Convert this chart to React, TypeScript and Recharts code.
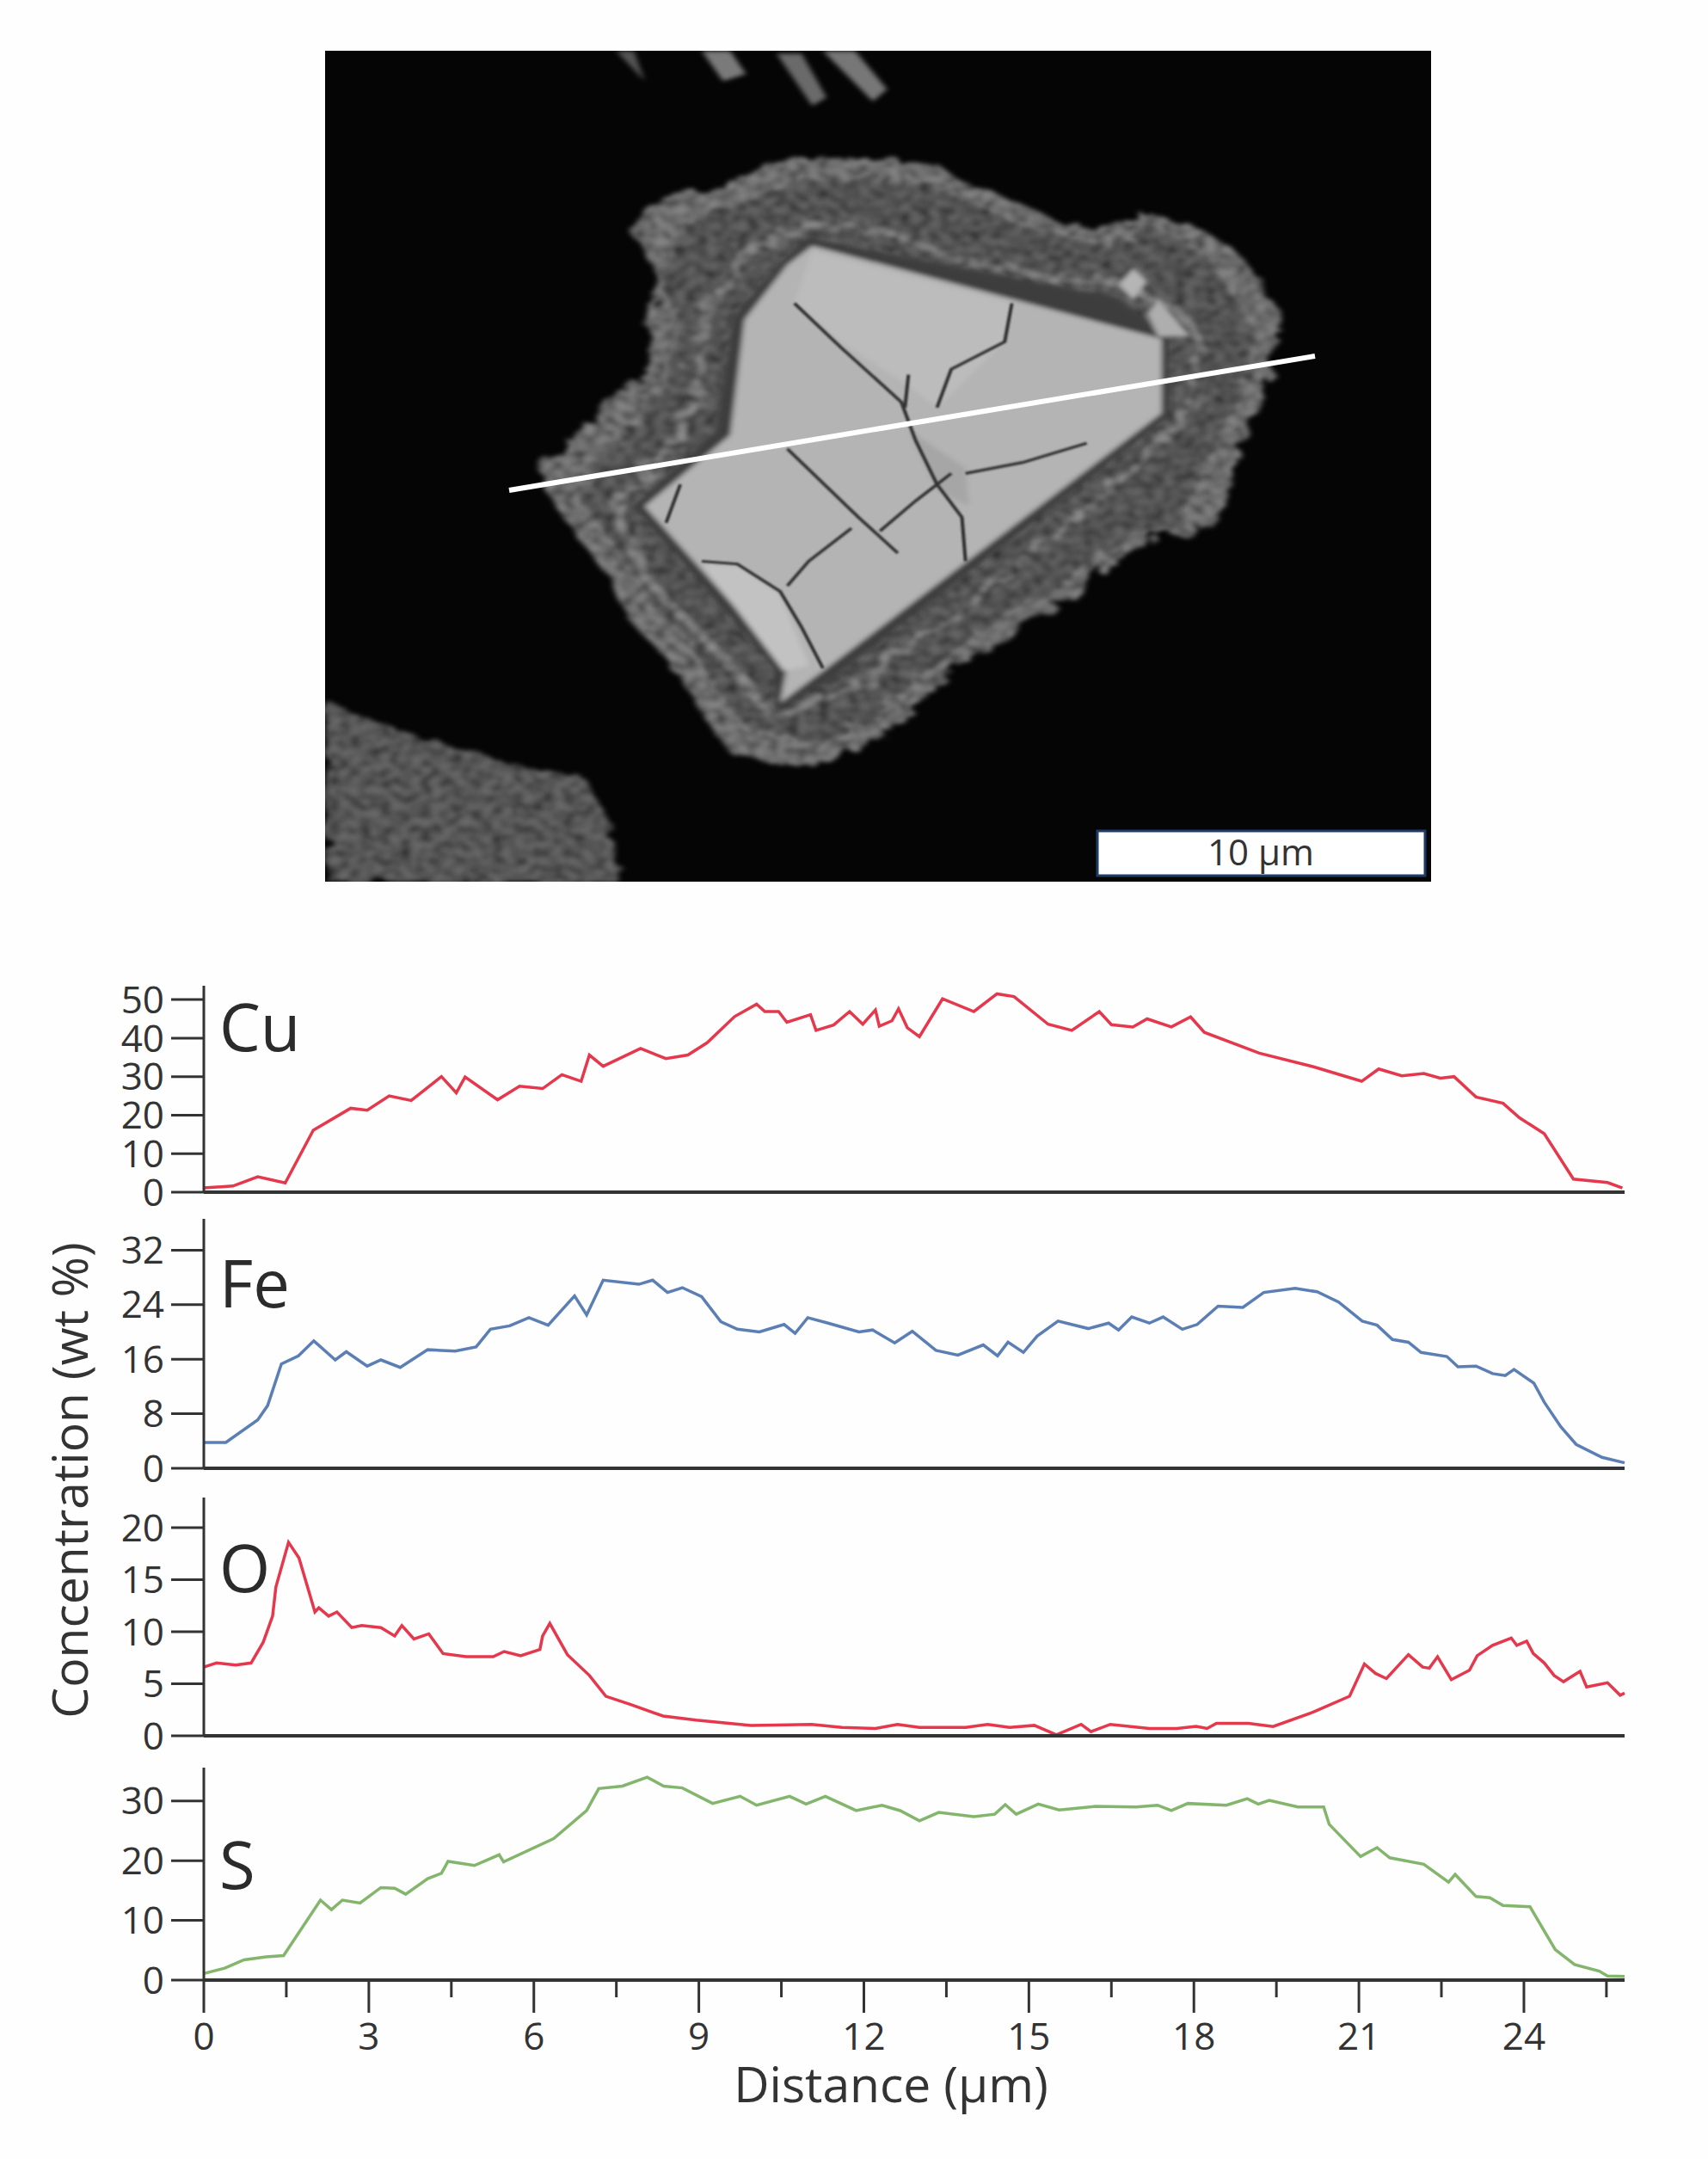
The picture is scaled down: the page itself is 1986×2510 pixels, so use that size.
import React from 'react'
import { LineChart, Line, XAxis, YAxis } from 'recharts'

// Distance (um) / concentration (wt %)
const cuDistance = [0, 0.53, 0.98, 1.48, 1.99, 2.67, 2.97, 3.37, 3.77, 4.32, 4.59, 4.75, 5.34, 5.74, 6.16, 6.51, 6.86, 7.01, 7.26, 7.94, 8.4, 8.8, 9.15, 9.65, 10.05, 10.2, 10.45, 10.6, 11.03, 11.13, 11.45, 11.74, 11.98, 12.21, 12.28, 12.51, 12.63, 12.79, 13.01, 13.43, 14.0, 14.42, 14.73, 15.35, 15.78, 16.28, 16.5, 16.89, 17.15, 17.59, 17.94, 18.19, 19.19, 20.19, 21.05, 21.36, 21.78, 22.18, 22.48, 22.73, 23.13, 23.62, 23.92, 24.37, 24.9, 25.52, 25.79]
const cuValues = [1.1, 1.6, 4.0, 2.4, 16.1, 21.8, 21.3, 25.0, 23.8, 30.0, 25.8, 29.9, 24.0, 27.5, 26.9, 30.5, 28.8, 35.6, 32.7, 37.3, 34.7, 35.6, 38.8, 45.6, 48.8, 46.9, 46.9, 44.1, 46.1, 42.0, 43.4, 46.9, 43.6, 47.3, 43.1, 44.5, 47.6, 42.7, 40.4, 50.2, 46.9, 51.5, 50.8, 43.6, 42.0, 46.9, 43.5, 42.9, 45.0, 42.9, 45.5, 41.5, 36.1, 32.5, 28.8, 32.0, 30.2, 30.8, 29.6, 30.0, 24.7, 23.1, 19.3, 15.2, 3.4, 2.5, 1.1]

const feDistance = [0, 0.4, 0.98, 1.16, 1.41, 1.72, 2.0, 2.39, 2.59, 2.97, 3.22, 3.57, 4.07, 4.57, 4.95, 5.21, 5.56, 5.91, 6.26, 6.74, 6.96, 7.26, 7.91, 8.16, 8.43, 8.7, 9.05, 9.4, 9.7, 10.1, 10.55, 10.75, 10.98, 11.35, 11.91, 12.16, 12.56, 12.88, 13.31, 13.71, 14.17, 14.43, 14.62, 14.9, 15.15, 15.53, 16.08, 16.45, 16.63, 16.87, 17.19, 17.44, 17.79, 18.06, 18.44, 18.89, 19.27, 19.84, 20.24, 20.63, 21.06, 21.33, 21.61, 21.9, 22.13, 22.6, 22.8, 23.13, 23.43, 23.66, 23.82, 24.18, 24.37, 24.67, 24.95, 25.42, 25.83]
const feValues = [3.8, 3.8, 7.1, 9.2, 15.3, 16.5, 18.7, 15.9, 17.1, 15.0, 15.9, 14.8, 17.4, 17.2, 17.8, 20.4, 20.9, 22.1, 21.0, 25.3, 22.5, 27.6, 27.0, 27.6, 25.8, 26.5, 25.2, 21.5, 20.4, 20.0, 21.1, 19.8, 22.1, 21.3, 20.0, 20.3, 18.4, 20.1, 17.3, 16.6, 18.1, 16.5, 18.5, 17.0, 19.4, 21.6, 20.5, 21.3, 20.3, 22.2, 21.3, 22.2, 20.4, 21.1, 23.8, 23.6, 25.8, 26.4, 25.9, 24.4, 21.6, 21.0, 18.9, 18.5, 17.0, 16.4, 14.9, 15.0, 13.9, 13.6, 14.5, 12.5, 9.7, 6.1, 3.5, 1.6, 0.8]

const oDistance = [0, 0.23, 0.58, 0.86, 1.08, 1.25, 1.31, 1.54, 1.73, 2.02, 2.09, 2.27, 2.42, 2.69, 2.87, 3.22, 3.47, 3.6, 3.82, 4.09, 4.35, 4.77, 5.26, 5.46, 5.76, 6.11, 6.16, 6.29, 6.61, 7.01, 7.31, 7.76, 8.35, 8.95, 9.95, 11.05, 11.6, 12.21, 12.61, 13.01, 13.85, 14.25, 14.65, 15.1, 15.5, 15.95, 16.13, 16.48, 17.19, 17.69, 18.04, 18.24, 18.41, 18.99, 19.44, 20.18, 20.83, 21.1, 21.3, 21.5, 21.9, 22.16, 22.28, 22.43, 22.68, 23.01, 23.15, 23.43, 23.77, 23.87, 24.05, 24.17, 24.37, 24.55, 24.72, 25.02, 25.14, 25.52, 25.75, 25.83]
const oValues = [6.6, 7.0, 6.8, 7.0, 9.0, 11.5, 14.3, 18.6, 17.1, 11.9, 12.3, 11.5, 11.9, 10.4, 10.6, 10.4, 9.6, 10.6, 9.3, 9.8, 7.9, 7.6, 7.6, 8.1, 7.7, 8.3, 9.6, 10.8, 7.8, 5.8, 3.8, 3.0, 1.9, 1.5, 1.0, 1.1, 0.8, 0.7, 1.1, 0.8, 0.8, 1.1, 0.8, 1.0, 0.1, 1.1, 0.4, 1.1, 0.7, 0.7, 0.9, 0.7, 1.2, 1.2, 0.9, 2.3, 3.8, 6.9, 6.0, 5.5, 7.8, 6.6, 6.5, 7.6, 5.4, 6.3, 7.7, 8.7, 9.4, 8.7, 9.1, 7.9, 7.0, 5.8, 5.2, 6.2, 4.7, 5.1, 3.9, 4.1]

const sDistance = [0, 0.38, 0.73, 1.13, 1.45, 2.12, 2.32, 2.52, 2.84, 3.22, 3.47, 3.67, 4.07, 4.32, 4.44, 4.92, 5.37, 5.45, 6.36, 6.96, 7.18, 7.61, 8.06, 8.36, 8.7, 9.25, 9.75, 10.05, 10.65, 10.95, 11.3, 11.86, 12.33, 12.66, 13.01, 13.36, 14.0, 14.38, 14.57, 14.77, 15.17, 15.55, 16.2, 16.95, 17.34, 17.59, 17.89, 18.59, 18.97, 19.17, 19.37, 19.89, 20.36, 20.46, 21.03, 21.33, 21.56, 22.18, 22.63, 22.75, 23.13, 23.38, 23.62, 24.11, 24.57, 24.92, 25.37, 25.52, 25.83]
const sValues = [1.1, 2.0, 3.4, 3.9, 4.1, 13.4, 11.8, 13.4, 12.9, 15.5, 15.4, 14.4, 17.0, 17.9, 19.9, 19.2, 21.0, 19.8, 23.7, 28.4, 32.1, 32.5, 34.0, 32.5, 32.2, 29.6, 30.8, 29.3, 30.8, 29.5, 30.8, 28.4, 29.3, 28.4, 26.7, 28.1, 27.4, 27.8, 29.4, 27.8, 29.5, 28.5, 29.1, 29.0, 29.3, 28.4, 29.6, 29.3, 30.4, 29.5, 30.1, 29.0, 29.0, 26.1, 20.7, 22.2, 20.5, 19.4, 16.4, 17.7, 14.0, 13.8, 12.5, 12.3, 5.1, 2.6, 1.5, 0.7, 0.6]

const cuTicks = [0, 10, 20, 30, 40, 50]
const feTicks = [0, 8, 16, 24, 32]
const oTicks = [0, 5, 10, 15, 20]
const sTicks = [0, 10, 20, 30]
const distanceTicks = [0, 1.5, 3, 4.5, 6, 7.5, 9, 10.5, 12, 13.5, 15, 16.5, 18, 19.5, 21, 22.5, 24, 25.5]

const FONT = '"Open Sans", sans-serif'
const INK = '#333333'
const RED = '#e5384c'
const BLUE = '#5b7fb5'
const GREEN = '#83b56c'
const MAX_DIST = 25.83

const toRows = (xs: number[], ys: number[]) => xs.map((d, i) => ({ d, v: ys[i] }))

// bottom axis: long ticks carry a label, short ones don't
const DistanceTick = ({ x, y, payload }: any) => {
  const major = payload.value % 3 === 0
  return (
    <g>
      <line x1={x} x2={x} y1={y} y2={y + (major ? 38 : 20)} stroke={INK} strokeWidth={3} />
      {major && (
        <text x={x} y={y + 81} textAnchor="middle" fontFamily={FONT} fontSize={44} fill={INK}>
          {payload.value}
        </text>
      )}
    </g>
  )
}

const Panel = ({ rows, ticks, top, y0, max, color, xAxisBottom }: any) => {
  const pad = 30
  const below = xAxisBottom ? 110 : pad
  return (
    <div style={{ position: 'absolute', left: 0, top: top - pad }}>
      <LineChart
        width={1986}
        height={y0 - top + pad + below}
        data={rows}
        margin={{ top: pad, right: 1986 - 1889, bottom: 0, left: 0 }}
      >
        <XAxis
          dataKey="d"
          type="number"
          domain={[0, MAX_DIST]}
          ticks={xAxisBottom ? distanceTicks : []}
          interval={0}
          height={below}
          tickSize={0}
          tickMargin={0}
          axisLine={{ stroke: INK, strokeWidth: 4 }}
          tickLine={false}
          tick={xAxisBottom ? <DistanceTick /> : false}
        />
        <YAxis
          width={237}
          type="number"
          domain={[0, max]}
          ticks={ticks}
          interval={0}
          tickSize={38}
          tickMargin={8}
          axisLine={{ stroke: INK, strokeWidth: 3 }}
          tickLine={{ stroke: INK, strokeWidth: 3 }}
          tick={{ fontFamily: FONT, fontSize: 44, fill: INK }}
        />
        <Line
          dataKey="v"
          type="linear"
          stroke={color}
          strokeWidth={3.5}
          dot={false}
          isAnimationActive={false}
        />
      </LineChart>
    </div>
  )
}

// The SEM micrograph above the profiles, sketched with blurred shapes
const rim = '450,360 490,295 530,290 590,270 680,225 720,222 800,230 880,235 910,265 1000,310 1060,350 1130,350 1170,320 1240,350 1290,385 1330,440 1362,520 1340,640 1310,740 1290,810 1285,870 1240,925 1190,900 1130,960 1060,1030 985,1090 870,1190 840,1245 780,1300 680,1335 590,1310 540,1220 510,1150 450,1070 425,1000 380,920 330,830 320,790 370,735 430,655 470,620 480,520 490,440'
const band = '490,430 540,340 600,310 690,270 800,265 880,280 1000,350 1130,390 1180,350 1250,400 1310,500 1320,600 1280,720 1230,850 1215,900 1130,920 1040,1010 960,1070 850,1170 810,1230 720,1290 620,1270 570,1190 530,1100 480,1040 440,950 380,850 400,790 470,700 510,620 520,520'
const paleRing = '555,510 610,395 700,345 800,355 900,405 1020,440 1130,450 1225,510 1250,570 1230,700 1150,800 1000,960 840,1120 740,1205 650,1245 590,1150 470,990 430,860 510,750 545,650'
const gap = '700,372 1130,480 1205,550 1205,695 730,1175 655,1232 650,1150 455,860 570,725 595,515 665,410'
const core = '705,385 1195,555 1195,690 720,1160 660,1218 670,1150 470,860 590,730 610,520 670,420'
const grain = '22,1215 130,1270 300,1335 380,1350 420,1430 435,1545 22,1545'
const cracks = [
  '680,490 745,570 830,670 850,740 880,820 915,880 920,960',
  '670,755 770,880 825,945',
  '800,905 850,850 900,800',
  '550,960 600,965 660,1015 690,1080 720,1155',
  '670,1005 700,960 760,900',
  '520,820 500,890',
  '840,620 835,680',
  '985,490 975,560 900,610 880,680',
  '920,800 1000,780 1090,745',
]

const Micrograph = () => (
  <svg width={1986} height={1040} style={{ position: 'absolute', left: 0, top: 0 }}>
    <defs>
      <filter id="soft" x="-5%" y="-5%" width="110%" height="110%">
        <feGaussianBlur stdDeviation="4" />
      </filter>
      <filter id="fine" x="-5%" y="-5%" width="110%" height="110%">
        <feGaussianBlur stdDeviation="1.5" />
      </filter>
      <filter id="rough" x="-10%" y="-10%" width="120%" height="120%">
        <feTurbulence type="fractalNoise" baseFrequency="0.035" numOctaves="3" seed="4" result="warp" />
        <feDisplacementMap in="SourceGraphic" in2="warp" scale="34" result="shape" />
        <feTurbulence type="fractalNoise" baseFrequency="0.07" numOctaves="3" seed="9" result="grainy" />
        <feColorMatrix
          in="grainy"
          type="matrix"
          values="0 0 0 0 0  0 0 0 0 0  0 0 0 0 0  1.6 0 0 0 -0.45"
          result="specks"
        />
        <feComposite in="specks" in2="shape" operator="in" result="speckled" />
        <feMerge result="merged">
          <feMergeNode in="shape" />
          <feMergeNode in="speckled" />
        </feMerge>
        <feGaussianBlur in="merged" stdDeviation="4" />
      </filter>
      <clipPath id="frame">
        <rect x={378} y={59} width={1286} height={966} />
      </clipPath>
    </defs>
    <rect x={378} y={59} width={1286} height={966} fill="#050505" />
    <g clipPath="url(#frame)">
      <g transform="translate(360,40) scale(0.829,0.638)">
        <polygon points={grain} fill="#6a6a6a" filter="url(#rough)" />
        <g filter="url(#soft)" strokeLinejoin="round">
          <polygon points="430,30 455,30 470,85" fill="#555" />
          <polygon points="550,30 590,30 612,72 580,85" fill="#7a7a7a" />
          <polygon points="655,35 690,35 725,115 705,130" fill="#6a6a6a" />
          <polygon points="720,30 765,30 810,100 790,122" fill="#777" />
        </g>
        <polygon points={rim} fill="#858585" filter="url(#rough)" />
        <polygon points={band} fill="#666" filter="url(#rough)" />
        <polygon points={paleRing} fill="none" stroke="#909090" strokeWidth={14} filter="url(#rough)" />
        <g filter="url(#soft)">
          <polygon points={gap} fill="#3c3c3c" />
          <polygon points={core} fill="#b4b4b4" />
          <polygon points="705,395 985,490 975,560 880,680 840,640 745,560 680,490" fill="#bcbcbc" />
          <polygon points="840,720 920,790 925,860 880,830" fill="#a6a6a6" />
          <polygon points="550,965 600,968 660,1020 700,1150 665,1160" fill="#c2c2c2" />
          <polygon points="1155,425 1175,450 1155,485 1135,455" fill="#b5b5b5" />
          <polygon points="1190,480 1235,550 1190,550 1175,510" fill="#aeaeae" />
        </g>
        <g fill="none" stroke="#333" strokeWidth={5} filter="url(#fine)">
          {cracks.map((c) => <polyline key={c} points={c} />)}
        </g>
      </g>
    </g>
    <line x1={592} y1={570} x2={1529} y2={414} stroke="#fff" strokeWidth={6} />
    <rect x={1276} y={966} width={381} height={52} fill="#fff" stroke="#1f3c66" strokeWidth={3} />
    <text x={1466} y={1006} textAnchor="middle" fontFamily={FONT} fontSize={42} fill={INK}>10 µm</text>
  </svg>
)

const ChartText = () => (
  <svg width={1986} height={2510} style={{ position: 'absolute', left: 0, top: 0, pointerEvents: 'none' }}>
    <g fontFamily={FONT} fontSize={76} fill="#2b2b2b">
      <text x={255} y={1222}>Cu</text>
      <text x={255} y={1520}>Fe</text>
      <text x={255} y={1851}>O</text>
      <text x={255} y={2196}>S</text>
    </g>
    <text x={1036} y={2444} textAnchor="middle" fontFamily={FONT} fontSize={57} fill={INK}>Distance (µm)</text>
    <text transform="translate(102,1721) rotate(-90)" textAnchor="middle" fontFamily={FONT} fontSize={57} fill={INK}>Concentration (wt %)</text>
  </svg>
)

export default function App() {
  return (
    <div style={{ position: 'absolute', left: 0, top: 0, width: 1986, height: 2510, background: '#fefefe', overflow: 'hidden' }}>
      <Micrograph />
      <Panel rows={toRows(cuDistance, cuValues)} ticks={cuTicks} top={1146} y0={1386} max={53.6} color={RED} />
      <Panel rows={toRows(feDistance, feValues)} ticks={feTicks} top={1417} y0={1707} max={36.6} color={BLUE} />
      <Panel rows={toRows(oDistance, oValues)} ticks={oTicks} top={1741} y0={2018} max={22.9} color={RED} />
      <Panel rows={toRows(sDistance, sValues)} ticks={sTicks} top={2055} y0={2302} max={35.6} color={GREEN} xAxisBottom />
      <ChartText />
    </div>
  )
}
